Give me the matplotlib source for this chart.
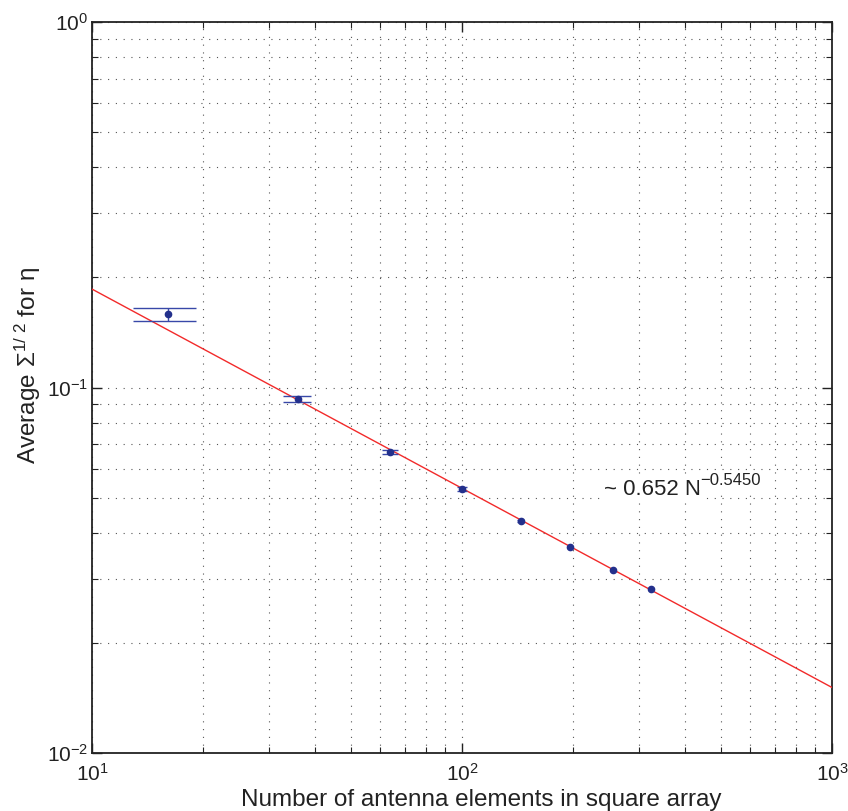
import numpy as np
import matplotlib
matplotlib.use("Agg")
import matplotlib.pyplot as plt

# ---- data ----
n_elements = [16, 36, 64, 100, 144, 196, 256, 324]
avg_sigma = [0.159, 0.0929, 0.0666, 0.0528, 0.0431, 0.0365, 0.0317, 0.0281]
err_sigma = [0.0065, 0.0018, 0.0007, 0.0006, 0.0003, 0.0002, 0.0002, 0.0002]
fit_coef = 0.652
fit_exp = -0.5450
x_label = "Number of antenna elements in square array"
y_label = r"Average $\mathrm{\Sigma}^{1/\ 2}$ for η"
fit_text_main = "~ 0.652 N"
fit_text_exp = "\u22120.5450"

plt.rcParams["font.family"] = ["Liberation Sans", "DejaVu Sans"]
plt.rcParams["mathtext.fontset"] = "custom"
plt.rcParams["mathtext.rm"] = "Liberation Sans"
plt.rcParams["mathtext.it"] = "Liberation Sans:italic"
plt.rcParams["mathtext.bf"] = "Liberation Sans:bold"

fig = plt.figure(figsize=(8.48, 8.11), dpi=100)
ax = fig.add_axes([92/848, 1-753/811, (832-92)/848, (753-22)/811])
ax.set_xscale("log")
ax.set_yscale("log")
ax.set_xlim(10, 1000)
ax.set_ylim(0.01, 1)

# fit line
xf = np.logspace(1, 3, 200)
ax.plot(xf, fit_coef * xf ** fit_exp, color="#f22a2a", lw=1.0, zorder=3)

# error bars (MATLAB style caps)
x = np.array(n_elements, float)
y = np.array(avg_sigma)
e = np.array(err_sigma)
tee = (x.max() - x.min()) / 100.0
ebc = "#3848a8"
ax.vlines(x, y - e, y + e, color=ebc, lw=1.0, zorder=4)
ax.hlines(y - e, x - tee, x + tee, color=ebc, lw=1.0, zorder=4)
ax.hlines(y + e, x - tee, x + tee, color=ebc, lw=1.0, zorder=4)
ax.plot(x, y, "o", color="#23308c", ms=4.5, mec="#23308c", zorder=5, ls="none")

t_main = ax.text(242, 0.0525, fit_text_main, fontsize=16, ha="left", va="center",
                 color="#222222", zorder=6,
                 bbox=dict(facecolor="white", edgecolor="none", pad=2))
ax.annotate(fit_text_exp, xy=(1, 0), xycoords=t_main, xytext=(-1, 15),
            textcoords="offset pixels", fontsize=12, ha="left", va="baseline",
            color="#222222", zorder=6,
            bbox=dict(facecolor="white", edgecolor="none", pad=1))

# grid
ax.grid(True, which="both", linestyle=(0, (1, 6)), color="#555555", lw=0.8)
ax.set_axisbelow(True)

def fmt(v, pos):
    ex = int(round(np.log10(v)))
    return r"$10^{%d}$" % ex

ax.xaxis.set_major_formatter(matplotlib.ticker.FuncFormatter(fmt))
ax.yaxis.set_major_formatter(matplotlib.ticker.FuncFormatter(fmt))
ax.xaxis.set_minor_formatter(matplotlib.ticker.NullFormatter())
ax.yaxis.set_minor_formatter(matplotlib.ticker.NullFormatter())
ax.tick_params(which="both", direction="in", top=True, right=True,
               labelsize=15, colors="#222222")
ax.tick_params(axis="x", which="major", pad=7)
ax.tick_params(axis="y", which="major", pad=3)
ax.tick_params(which="major", length=7, width=1)
ax.tick_params(which="minor", length=4, width=0.8)
for s in ax.spines.values():
    s.set_linewidth(1.3)
    s.set_color("#222222")

fig.text(481/848, 1-800/811, x_label, fontsize=17.5, color="#222222",
         ha="center", va="center")
fig.text(28/848, 1-366/811, y_label, fontsize=17.5, color="#222222",
         ha="center", va="center", rotation=90)

fig.savefig("out.png", dpi=100)
